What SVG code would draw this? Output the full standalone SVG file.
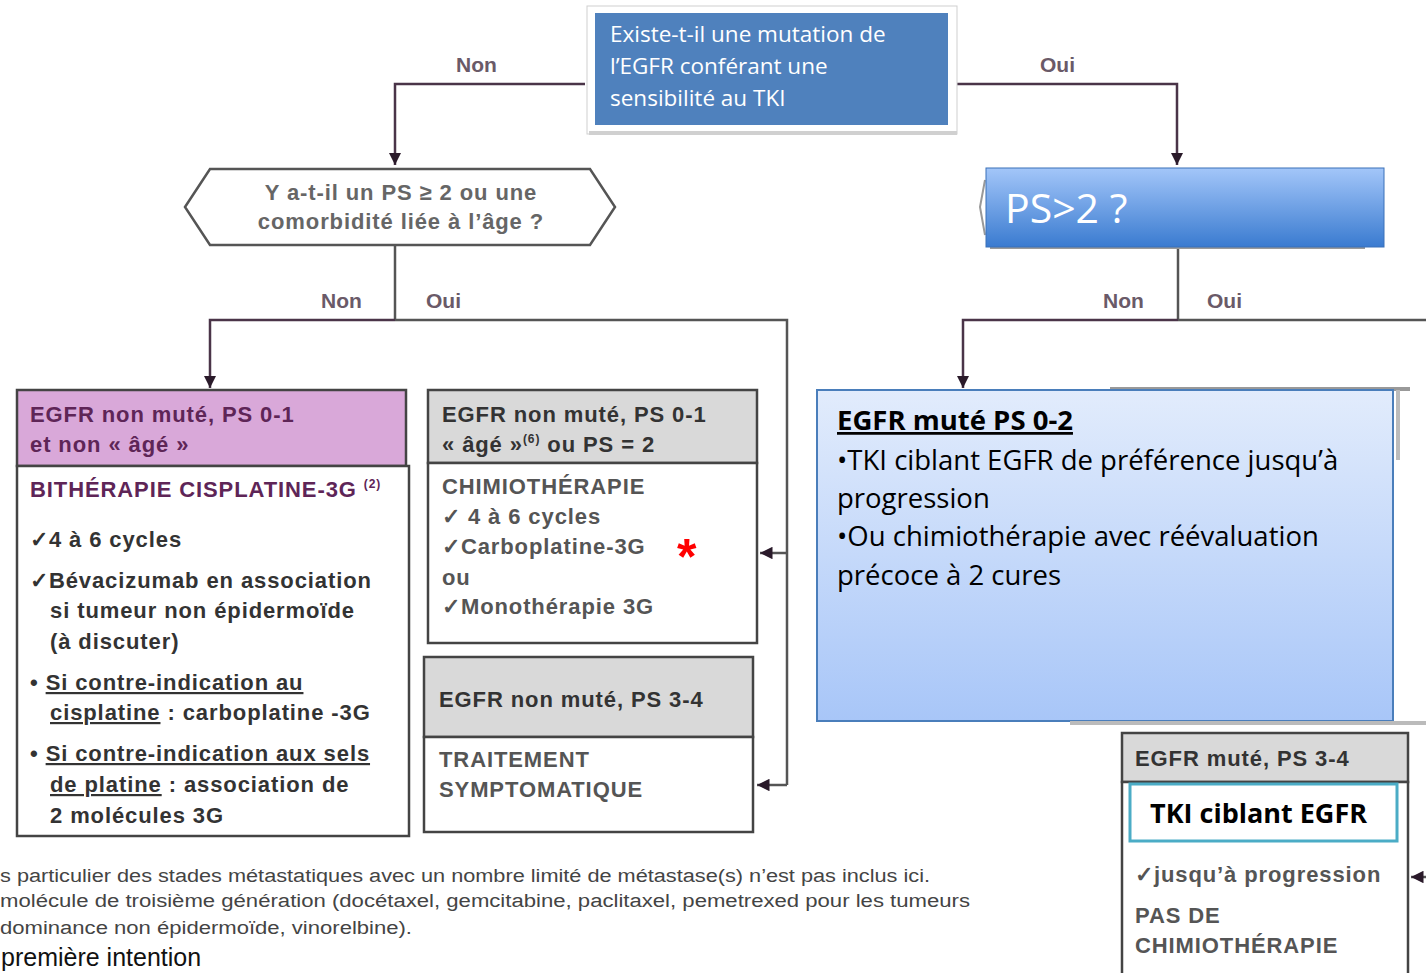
<svg xmlns="http://www.w3.org/2000/svg" width="1426" height="973" viewBox="0 0 1426 973">
<defs>
<style>
.scan{font-family:"Liberation Sans",Arial,sans-serif;font-size:22px;font-weight:bold;letter-spacing:0.9px}
.pur{fill:#5e2557}
.gry{fill:#555555}
.lbl{font-family:"Liberation Sans",Arial,sans-serif;font-size:21px;font-weight:bold;fill:#6a5a68}
.cal{font-family:"Open Sans","Liberation Sans",sans-serif}
.con{fill:none;stroke:#4a3448;stroke-width:2.5}
.cong{fill:none;stroke:#555;stroke-width:2.5}
.box{stroke:#444;stroke-width:2.5}
</style>
<marker id="ah" viewBox="0 0 10 10" refX="10" refY="5" markerWidth="5" markerHeight="5" orient="auto"><path d="M0,0 L10,5 L0,10 z" fill="#2a1a2a"/></marker>
<linearGradient id="gPS" x1="0" y1="0" x2="0" y2="1"><stop offset="0" stop-color="#a3c6f9"/><stop offset="1" stop-color="#3a7bd0"/></linearGradient>
<linearGradient id="gBig" x1="0" y1="0" x2="0" y2="1"><stop offset="0" stop-color="#e2ecfc"/><stop offset="1" stop-color="#a8c6f8"/></linearGradient>
</defs>
<rect width="1426" height="973" fill="#ffffff"/>

<g id="connectors">
<path class="con" d="M585,84 H395 V165" marker-end="url(#ah)"/>
<path class="con" d="M957,84 H1177 V165" marker-end="url(#ah)"/>
<path class="cong" d="M395,245 V320"/>
<path class="con" d="M395,320 H210 V388" marker-end="url(#ah)"/>
<path class="cong" d="M395,320 H787 V785"/>
<path class="cong" d="M787,553 H760" marker-end="url(#ah)"/>
<path class="cong" d="M787,785 H757" marker-end="url(#ah)"/>
<path class="cong" d="M1178,247 V320"/>
<path class="con" d="M1178,320 H963 V388" marker-end="url(#ah)"/>
<path class="cong" d="M1178,320 H1426"/>
<path class="cong" d="M1426,877 H1411" marker-end="url(#ah)"/>
<text class="lbl" x="456" y="72">Non</text>
<text class="lbl" x="1040" y="72">Oui</text>
<text class="lbl" x="321" y="308">Non</text>
<text class="lbl" x="426" y="308">Oui</text>
<text class="lbl" x="1103" y="308">Non</text>
<text class="lbl" x="1207" y="308">Oui</text>
</g>

<g id="q1">
<rect x="587" y="6" width="370" height="128" fill="#ffffff" stroke="#cfcfcf" stroke-width="1"/>
<rect x="589" y="131" width="368" height="4" fill="#d0d0d0"/>
<rect x="595" y="13" width="353" height="112" fill="#4f81bd"/>
<text class="cal" font-size="22.5" fill="#ffffff"><tspan x="610" y="42">Existe-t-il une mutation de</tspan><tspan x="610" y="74">l’EGFR conférant une</tspan><tspan x="610" y="106">sensibilité au TKI</tspan></text>
</g>

<g id="q2">
<polygon points="185,207 210,169 590,169 615,207 590,245 210,245" fill="#ffffff" stroke="#555" stroke-width="2.5"/>
<text class="scan" fill="#666" text-anchor="middle" font-size="22"><tspan x="401" y="200">Y a-t-il  un PS ≥ 2 ou une</tspan><tspan x="401" y="229">comorbidité liée à l’âge ?</tspan></text>
</g>

<g id="q3">
<path d="M985,180 L980,207 L985,235" fill="none" stroke="#999" stroke-width="2"/>
<rect x="990" y="243" width="375" height="6" fill="#9a9a9a"/>
<rect x="986" y="168" width="398" height="79" fill="url(#gPS)" stroke="#3a70b8" stroke-width="1"/>
<text class="cal" x="1005" y="223" font-size="41" fill="#ffffff">PS&gt;2 ?</text>
</g>

<g id="n-nonmute01">
<rect x="17" y="390" width="389" height="76" fill="#d9a8d9" class="box"/>
<rect x="17" y="466" width="392" height="370" fill="#ffffff" class="box"/>
<text class="scan pur"><tspan x="30" y="422">EGFR non muté, PS 0-1</tspan><tspan x="30" y="452">et non « âgé »</tspan></text>
<text class="scan pur" x="30" y="497">BITHÉRAPIE CISPLATINE-3G <tspan font-size="12" dy="-9">(2)</tspan></text>
<text class="scan" fill="#333">
<tspan x="30" y="547">✓4 à 6 cycles</tspan>
<tspan x="30" y="588">✓Bévacizumab en association</tspan>
<tspan x="50" y="618">si tumeur non épidermoïde</tspan>
<tspan x="50" y="649">(à discuter)</tspan>
<tspan x="30" y="690">• <tspan text-decoration="underline">Si contre-indication au</tspan></tspan>
<tspan x="50" y="720"><tspan text-decoration="underline">cisplatine</tspan> : carboplatine -3G</tspan>
<tspan x="30" y="761">• <tspan text-decoration="underline">Si contre-indication aux sels</tspan></tspan>
<tspan x="50" y="792"><tspan text-decoration="underline">de platine</tspan> : association de</tspan>
<tspan x="50" y="823">2 molécules 3G</tspan>
</text>
</g>

<g id="n-nonmute-age">
<rect x="428" y="390" width="329" height="73" fill="#d9d9d9" class="box"/>
<rect x="428" y="463" width="329" height="180" fill="#ffffff" class="box"/>
<text class="scan" fill="#333"><tspan x="442" y="422">EGFR non muté, PS 0-1</tspan><tspan x="442" y="452">« âgé »<tspan font-size="12" dy="-9">(6)</tspan><tspan dy="9"> ou PS = 2</tspan></tspan></text>
<text class="scan gry">
<tspan x="442" y="494">CHIMIOTHÉRAPIE</tspan>
<tspan x="442" y="524">✓ 4 à 6 cycles</tspan>
<tspan x="442" y="554">✓Carboplatine-3G</tspan>
<tspan x="442" y="585">ou</tspan>
<tspan x="442" y="614">✓Monothérapie 3G</tspan>
</text>
<text x="677" y="574" font-family="Liberation Sans,Arial,sans-serif" font-size="50" font-weight="bold" fill="#ff0000">*</text>
</g>

<g id="n-nonmute34">
<rect x="424" y="657" width="329" height="80" fill="#d9d9d9" class="box"/>
<rect x="424" y="737" width="329" height="95" fill="#ffffff" class="box"/>
<text class="scan" fill="#333" x="439" y="707">EGFR non muté, PS 3-4</text>
<text class="scan gry"><tspan x="439" y="767">TRAITEMENT</tspan><tspan x="439" y="797">SYMPTOMATIQUE</tspan></text>
</g>

<g id="n-mute02">
<rect x="1110" y="387" width="300" height="4" fill="#999"/>
<rect x="1396" y="390" width="4" height="70" fill="#bbb"/>
<rect x="817" y="390" width="576" height="331" fill="url(#gBig)" stroke="#4a7ebb" stroke-width="2"/>
<rect x="1070" y="721" width="356" height="4" fill="#bbb"/>
<text class="cal" font-size="27.5" fill="#000"><tspan x="837" y="430" font-weight="bold" text-decoration="underline">EGFR muté PS 0-2</tspan><tspan x="837" y="470">•TKI ciblant EGFR de préférence jusqu’à</tspan><tspan x="837" y="508">progression</tspan><tspan x="837" y="546">•Ou chimiothérapie avec réévaluation</tspan><tspan x="837" y="585">précoce à 2 cures</tspan></text>
</g>

<g id="n-mute34">
<rect x="1122" y="733" width="286" height="49" fill="#d9d9d9" class="box"/>
<rect x="1122" y="782" width="286" height="200" fill="#ffffff" class="box"/>
<text class="scan" fill="#333" x="1135" y="766">EGFR muté, PS 3-4</text>
<rect x="1130" y="784" width="267" height="57" fill="#ffffff" stroke="#4bacc6" stroke-width="3"/>
<text class="cal" x="1150" y="823" font-size="27" font-weight="bold" fill="#000">TKI ciblant EGFR</text>
<text class="scan gry" letter-spacing="0.3"><tspan x="1135" y="882">✓jusqu’à progression</tspan><tspan x="1135" y="923">PAS DE</tspan><tspan x="1135" y="953">CHIMIOTHÉRAPIE</tspan></text>
</g>

<g id="footnotes">
<text font-family="Liberation Sans,Arial,sans-serif" font-size="18" fill="#444"><tspan x="0" y="882" textLength="930" lengthAdjust="spacingAndGlyphs">s particulier des stades métastatiques avec un nombre limité de métastase(s) n’est pas inclus ici.</tspan><tspan x="0" y="907" textLength="970" lengthAdjust="spacingAndGlyphs">molécule de troisième génération (docétaxel, gemcitabine, paclitaxel, pemetrexed pour les tumeurs</tspan><tspan x="0" y="934" textLength="412" lengthAdjust="spacingAndGlyphs">dominance non épidermoïde, vinorelbine).</tspan></text>
<text x="1" y="966" font-family="Liberation Sans,Arial,sans-serif" font-size="25" fill="#111">première intention</text>
</g>
</svg>
